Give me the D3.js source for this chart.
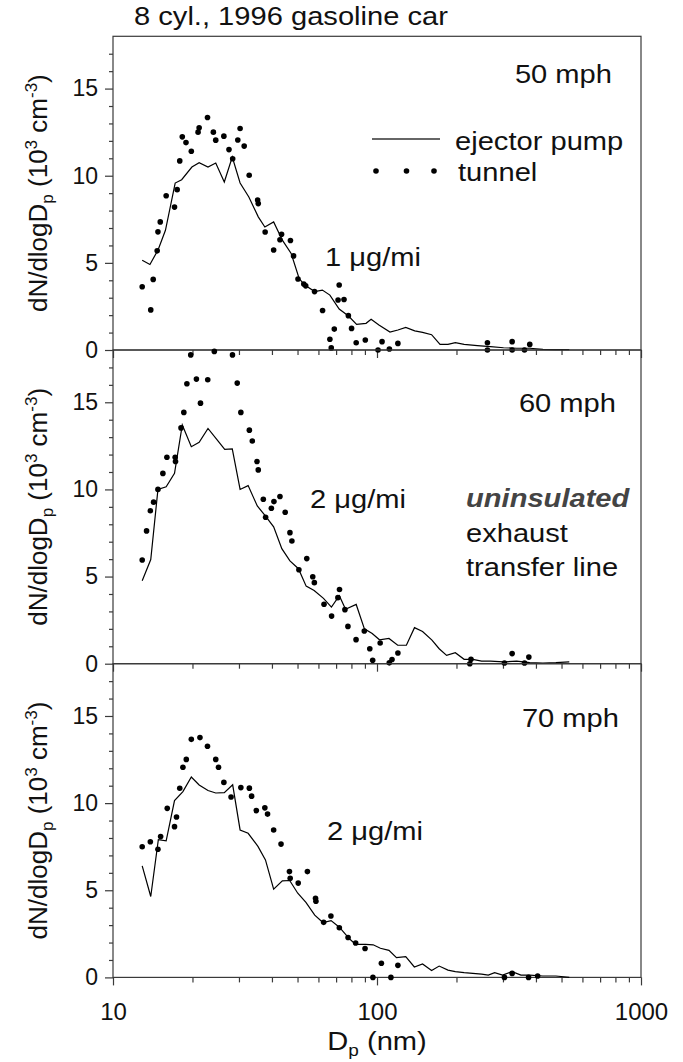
<!DOCTYPE html>
<html>
<head>
<meta charset="utf-8">
<script src="https://cdn.jsdelivr.net/npm/d3@7"></script>
<style>
  body { margin: 0; background: #fff; }
  text { font-family: Arial, "Liberation Sans", sans-serif; fill: #111; }
</style>
</head>
<body>
<svg id="chart" width="683" height="1062"></svg>
<script>
// Particle size distributions, D_p in nm, dN/dlogD_p in 10^3 cm^-3
const ejector50 = [[12.9,5.15],[13.8,4.91],[14.8,5.73],[15.8,6.87],[17.2,9.58],[18.2,9.77],[19.9,10.5],[21.2,10.75],[22.9,10.5],[24.5,10.73],[26.4,9.64],[28.3,11.07],[30.3,9.58],[32.7,8.78],[35.5,7.64],[37.6,7.06],[40.6,7.35],[43.8,6.3],[47.3,5.54],[50.7,4.1],[53.2,3.73],[58.1,3.35],[62.1,3.44],[66.3,3.15],[71.9,2.35],[78,1.95],[83.7,1.47],[90.9,1.53],[95,1.76],[101.7,1.43],[112,1.03],[120,1.15],[128.5,1.3],[139,1.1],[148.8,1.01],[161,0.88],[173.3,0.32],[185.7,0.32],[198,0.42],[213.8,0.32],[239.9,0.25],[268.9,0.19],[301.5,0.13],[338,0.1],[379,0.1],[425,0.04],[476,0.02],[535,0.02]];
const tunnel50 = [[12.9,3.63],[13.9,2.3],[14.2,4.05],[14.7,5.69],[14.8,6.78],[15.1,7.35],[15.9,8.85],[17.1,8.2],[17.5,9.2],[17.9,10.85],[18.3,12.23],[18.9,11.9],[19.8,11.4],[21.0,12.5],[21.2,12.75],[22.8,13.34],[24.0,12.5],[24.5,12.04],[26.3,12.27],[27.5,11.5],[28.4,10.97],[29.7,12.05],[30.3,12.71],[31.4,11.7],[32.8,10.03],[35.3,8.6],[35.5,8.4],[37.7,6.77],[40.6,5.74],[42.9,6.33],[43.5,6.64],[47.0,6.28],[48.3,5.4],[50.2,4.07],[52.8,3.78],[53.7,3.68],[58.0,3.35],[62.2,2.27],[66.3,0.62],[67.1,0.12],[68.9,1.2],[71.2,2.87],[71.9,3.73],[75.0,2.9],[77.9,1.97],[80.1,1.24],[83.4,0.42],[90.3,0.57],[100.9,0.0],[104.5,0.48],[111.4,0.06],[120,0.38],[262,0.42],[262,0.0],[325,0.48],[325,0.0],[362,0.0],[379,0.32]];

const ejector60 = [[12.9,4.76],[13.9,5.98],[14.8,10.0],[15.9,10.15],[17.1,10.92],[18.3,13.7],[19.8,12.45],[21.2,12.7],[22.9,13.5],[24.8,12.85],[26.5,12.3],[28.3,12.32],[30.3,10.0],[32.5,10.22],[35.2,9.05],[37.7,8.5],[40.6,7.85],[43.6,6.6],[46.8,5.9],[50.4,5.45],[53.9,4.45],[57.8,4.2],[62.7,3.75],[67.2,3.25],[72.0,3.9],[76.0,3.12],[83.4,3.4],[89.6,2.0],[95.9,1.73],[102.2,1.37],[111,1.45],[119.8,1.06],[129.2,1.06],[138.7,2.07],[148.8,1.85],[161.5,1.35],[172,0.86],[183.5,0.48],[198,0.63],[213.8,0.25],[230.7,0.25],[249,0.15],[269,0.15],[301.5,0.1],[338,0.15],[379,0.06],[425,0.04],[476,0.06],[535,0.1]];
const tunnel60 = [[12.9,5.95],[13.4,7.62],[13.85,8.78],[14.25,9.27],[14.8,10.0],[15.45,10.92],[16.0,11.85],[17.2,11.84],[17.25,11.6],[18.1,13.53],[18.55,14.42],[19.05,16.06],[19.7,17.72],[20.7,16.33],[21.45,14.95],[22.85,16.29],[24.2,17.92],[28.35,17.72],[29.55,16.1],[30.5,14.42],[32.85,13.4],[33.7,12.78],[35.1,11.6],[35.5,11.12],[37.1,9.44],[37.85,8.4],[39.8,8.92],[40.7,9.3],[42.9,9.59],[44.9,8.69],[46.8,7.52],[47.6,7.04],[50.6,5.39],[54.2,6.03],[57.1,4.99],[57.9,4.65],[63.0,3.41],[67.3,2.73],[71.1,3.79],[72.1,4.26],[75.6,3.1],[77.6,2.14],[83.3,1.38],[89.5,1.88],[93.9,0.86],[96.3,0.2],[102.8,1.19],[111.3,0.05],[114,0.24],[120,0.61],[224.7,0.0],[227,0.25],[303.9,0.04],[325,0.58],[362,0.04],[376,0.38]];

const ejector70 = [[12.9,6.4],[13.9,4.64],[14.85,7.9],[15.9,7.83],[17.1,10.15],[18.4,10.66],[19.8,11.5],[21.2,11.04],[22.9,10.72],[24.5,10.58],[26.4,10.6],[28.4,11.05],[30.3,8.46],[32.5,8.27],[35.4,7.52],[37.8,6.74],[40.6,5.06],[43.8,5.54],[46.7,5.56],[50.1,4.83],[53.8,4.3],[58.1,3.57],[62.4,3.15],[67,3.26],[72,2.88],[78.2,2.25],[82.8,1.9],[90.5,1.9],[96.7,1.87],[103,1.67],[111,1.55],[118.5,1.13],[128.5,1.19],[138.5,0.6],[148.8,0.77],[161,0.4],[172,0.65],[185.7,0.42],[198,0.33],[213.8,0.27],[230.7,0.23],[249,0.19],[264,0.13],[279,0.27],[299,0.13],[325,0.33],[351,0.13],[379,0.13],[425,0.08],[476,0.08],[535,0.0]];
const tunnel70 = [[12.9,7.5],[13.85,7.78],[14.8,7.35],[15.15,8.08],[16.05,9.7],[17.1,8.65],[17.4,9.2],[17.9,10.85],[18.4,12.06],[18.95,12.51],[19.8,13.66],[21.35,13.76],[22.8,13.26],[24.5,12.51],[25.1,12.06],[26.3,11.19],[28.0,10.35],[30.5,10.89],[32.85,10.86],[33.5,10.4],[34.9,9.57],[37.6,9.73],[38.5,9.37],[40.6,8.46],[43.3,7.65],[46.6,6.07],[46.9,5.69],[50.3,5.41],[54.5,6.07],[58.5,4.54],[58.7,4.37],[62.8,3.16],[66.9,3.52],[72,2.85],[77.7,2.29],[83,1.97],[90.1,1.66],[96.5,0.0],[103.9,0.81],[112.9,0.0],[120,0.69],[303.9,0.0],[325,0.23],[375,0.0],[406,0.08]];

const panels = [
  { line: ejector50, dots: tunnel50 },
  { line: ejector60, dots: tunnel60 },
  { line: ejector70, dots: tunnel70 }
];
const yMajor = [0, 5, 10, 15];
const xMajor = [10, 100, 1000];

const svg = d3.select('#chart');
const left = 113, right = 641, top0 = 36.3, panelH = 313.7;
const axisColor = '#3a3a3a';
const SX = 1.12; // the original lettering is a bit wider than Arial

const x = d3.scaleLog().domain([10, 1000]).range([left, right]);
const xMinor = [];
for (const dec of [10, 100]) for (let k = 2; k <= 9; k++) xMinor.push(dec * k);

// stretched text helper
function label(str, xx, yy, size, anchor) {
  return svg.append('text')
    .attr('transform', `translate(${xx},${yy}) scale(${SX},1)`)
    .attr('font-size', size)
    .attr('text-anchor', anchor || 'start')
    .text(str);
}

panels.forEach((p, i) => {
  const top = top0 + i * panelH;
  const y = d3.scaleLinear().domain([0, 18]).range([top + panelH, top]);

  svg.append('rect')
    .attr('x', left).attr('y', top)
    .attr('width', right - left).attr('height', panelH)
    .attr('fill', 'none').attr('stroke', axisColor).attr('stroke-width', 1.2);

  const gMin = svg.append('g').attr('transform', `translate(${left},0)`)
    .call(d3.axisLeft(y).tickValues(d3.range(1, 18).filter(v => v % 5)).tickSize(4).tickFormat(''));
  const gMaj = svg.append('g').attr('transform', `translate(${left},0)`)
    .call(d3.axisLeft(y).tickValues(yMajor).tickSize(8).tickPadding(7));
  const bMin = svg.append('g').attr('transform', `translate(0,${top + panelH})`)
    .call(d3.axisBottom(x).tickValues(xMinor).tickSize(5).tickFormat(''));
  const bMaj = svg.append('g').attr('transform', `translate(0,${top + panelH})`)
    .call(d3.axisBottom(x).tickValues(xMajor).tickSize(8).tickPadding(18)
      .tickFormat(i === 2 ? d3.format('d') : ''));
  [gMin, gMaj, bMin, bMaj].forEach(g => {
    g.select('.domain').remove();
    g.selectAll('line').attr('stroke', axisColor).attr('stroke-width', 1.2);
    g.selectAll('text').attr('font-size', 23).attr('fill', '#111')
      .style('font-family', 'Arial, "Liberation Sans", sans-serif');
  });
  bMaj.selectAll('text').attr('font-size', 24);

  // ejector pump
  svg.append('path')
    .datum(p.line)
    .attr('fill', 'none').attr('stroke', '#000').attr('stroke-width', 1.2)
    .attr('d', d3.line().x(d => x(d[0])).y(d => y(d[1])));

  // tunnel
  svg.append('g').selectAll('circle')
    .data(p.dots).enter().append('circle')
    .attr('cx', d => x(d[0])).attr('cy', d => y(d[1]))
    .attr('r', 2.8).attr('fill', '#000');

  const yl = svg.append('text')
    .attr('transform', `translate(47,${top + panelH / 2}) rotate(-90)`)
    .attr('text-anchor', 'middle').attr('font-size', 26);
  yl.append('tspan').text('dN/dlogD');
  yl.append('tspan').attr('font-size', 17).attr('dy', 6).text('p');
  yl.append('tspan').attr('dy', -6).text(' (10');
  yl.append('tspan').attr('font-size', 17).attr('dy', -10).text('3');
  yl.append('tspan').attr('dy', 10).text(' cm');
  yl.append('tspan').attr('font-size', 17).attr('dy', -10).text('-3');
  yl.append('tspan').attr('dy', 10).text(')');
});

// x label
const xl = label('', 377, 1050, 26, 'middle');
xl.append('tspan').text('D');
xl.append('tspan').attr('font-size', 17).attr('dy', 6).text('p');
xl.append('tspan').attr('dy', -6).text(' (nm)');

label('8 cyl., 1996 gasoline car', 134, 25, 26);

label('50 mph', 612, 83, 26, 'end');
label('1 \u03bcg/mi', 325, 266, 26);
label('60 mph', 616, 412, 26, 'end');
label('2 \u03bcg/mi', 310, 508, 26);
label('uninsulated', 466, 507, 26)
  .attr('font-weight', 'bold').attr('font-style', 'italic').style('fill', '#444');
label('exhaust', 466, 542, 26);
label('transfer line', 466, 576, 26);
label('70 mph', 619, 727, 26, 'end');
label('2 \u03bcg/mi', 327, 840, 26);

// legend
svg.append('line').attr('x1', 372).attr('x2', 440).attr('y1', 139).attr('y2', 139)
  .attr('stroke', '#333').attr('stroke-width', 1.3);
svg.append('g').selectAll('circle').data([376, 406.5, 434]).enter().append('circle')
  .attr('cx', d => d).attr('cy', 171).attr('r', 2.8).attr('fill', '#000');
label('ejector pump', 455, 150, 26);
label('tunnel', 458, 181, 26);
</script>
</body>
</html>
